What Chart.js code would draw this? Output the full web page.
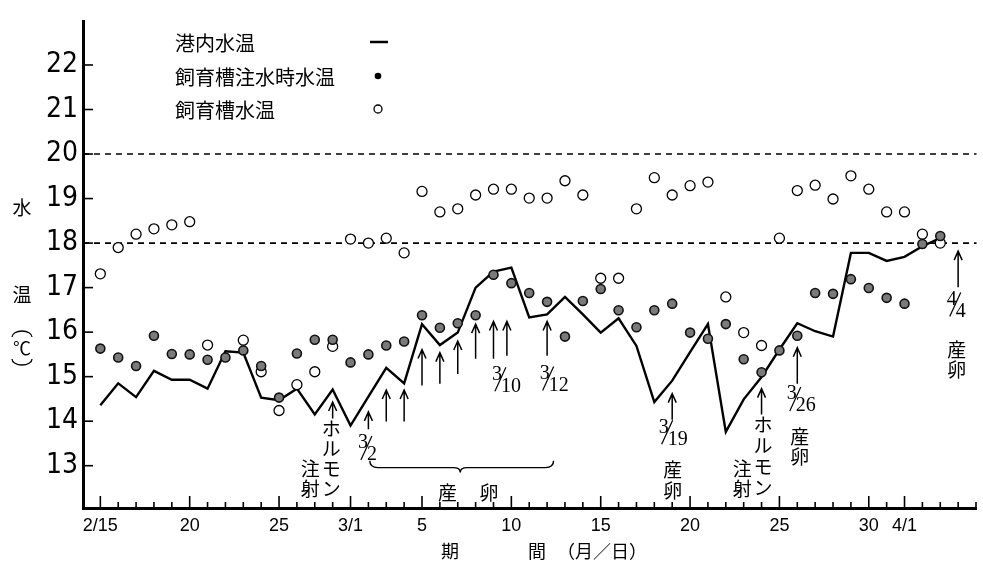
<!DOCTYPE html>
<html>
<head>
<meta charset="utf-8">
<script src="https://cdn.jsdelivr.net/npm/chart.js@4.4.1/dist/chart.umd.min.js"></script>
<style>
body{margin:0;background:#fff;}
#wrap{width:983px;height:569px;}
</style>
</head>
<body>
<div id="wrap"><canvas id="chart" width="983" height="569"></canvas></div>
<script>
// DATA  (day 0 = 2/15, 3/1 = day 14, 4/1 = day 45)
const days = [0,1,2,3,4,5,6,7,8,9,10,11,12,13,14,15,16,17,18,19,20,21,22,23,24,25,26,27,28,29,30,31,32,33,34,35,36,37,38,39,40,41,42,43,44,45,46,47];

// 港内水温
const harbor = [14.36,14.85,14.54,15.13,14.93,14.93,14.73,15.57,15.54,14.53,
14.47,14.73,14.15,14.71,13.90,14.55,15.20,14.85,16.18,15.71,
15.99,17.00,17.36,17.45,16.33,16.40,16.79,16.40,15.99,16.31,
15.69,14.43,14.91,15.55,16.18,13.76,14.49,14.99,15.61,16.20,
16.02,15.90,17.78,17.78,17.60,17.69,17.93,18.11];

// 飼育槽注水時水温
const inflow = [15.63,15.43,15.24,15.92,15.51,15.50,15.38,15.43,15.59,15.24,
14.53,15.52,15.83,15.83,15.32,15.50,15.70,15.79,16.38,16.10,
16.20,16.38,17.29,17.10,16.88,16.68,15.90,16.70,16.97,16.49,
16.11,16.49,16.64,15.99,15.85,16.18,15.39,15.10,15.59,15.92,
16.88,16.86,17.19,16.99,16.77,16.64,17.98,18.16];

// 飼育槽水温
const tank = [17.31,17.90,18.20,18.32,18.41,18.48,15.71,null,15.82,15.11,
14.24,14.82,15.11,15.68,18.09,18.00,18.11,17.78,19.16,18.70,
18.77,19.08,19.21,19.21,19.01,19.01,19.40,19.08,17.21,17.21,
18.77,19.47,19.08,19.29,19.37,16.79,15.99,15.70,18.11,19.18,
19.30,18.99,19.51,19.21,18.70,18.70,18.20,18.00];

const xLabelDays = [0,5,10,14,18,23,28,33,38,43,45];
const xLabels = ['2/15','20','25','3/1','5','10','15','20','25','30','4/1'];
const yTicks = [13,14,15,16,17,18,19,20,21,22];
const refLines = [20,18];

// ANNOTATIONS  [day, head temp, tail temp]
const arrows = [[13,14.43,14.06],[15,14.21,13.82],[16,14.70,13.99],[17,14.70,13.99],
[18,15.61,14.80],[19,15.54,14.84],[20,15.80,15.06],[21,16.18,15.40],[22,16.24,15.40],
[22.75,16.24,15.47],[25,16.24,15.47],[32,14.62,14.03],[37,14.73,14.15],[39,15.65,14.84],
[48,17.82,17.01]];
// [day, temp, numerator, denominator]
const fracs = [[14.86,13.40,'3','2'],[22.36,14.94,'3','10'],[25.03,14.96,'3','12'],
[31.69,13.75,'3','19'],[38.86,14.50,'3','26'],[47.81,16.62,'4','4']];
// [day, temp, text, step px down]
const vtexts = [[12.92,13.82,'ホルモン',20],[11.75,12.93,'注射',20],
[37.08,13.93,'ホルモン',21],[35.92,12.93,'注射',20],
[32.03,12.91,'産卵',21],[39.14,13.66,'産卵',20],[47.92,15.60,'産卵',20],
[19.42,12.40,'産',0],[21.75,12.40,'卵',0]];
// brace under 3/2..3/12 : [left day, right day, centre day, line temp, tip temp, cusp temp]
const brace = [15.08,25.36,20.14,12.956,13.11,12.85];

const CJK = '"Noto Sans CJK JP","Noto Sans CJK SC",sans-serif';

function frac(ctx,px,py,num,den){
ctx.font = '20px "Liberation Serif","DejaVu Serif",serif';
ctx.textBaseline = 'middle';
ctx.textAlign = 'right';
ctx.fillText(num,px+2,py-5);
ctx.textAlign = 'left';
ctx.fillText(den,px+1,py+7);
ctx.lineWidth = 1.2;
ctx.beginPath();
ctx.moveTo(px+6,py-12);
ctx.lineTo(px-5,py+12);
ctx.stroke();
}

const decor = {
id:'decor',
beforeDatasetsDraw(c){
const {ctx, chartArea:a, scales:{x,y}} = c;
ctx.save();
ctx.strokeStyle = '#000';
ctx.lineWidth = 1.6;
ctx.setLineDash([6,5]);
refLines.forEach(v=>{
const py = y.getPixelForValue(v);
ctx.beginPath(); ctx.moveTo(a.left,py); ctx.lineTo(a.right,py); ctx.stroke();
});
ctx.setLineDash([]);
// inside ticks
ctx.lineWidth = 1.6;
yTicks.forEach(v=>{
const py = y.getPixelForValue(v);
ctx.beginPath(); ctx.moveTo(a.left,py); ctx.lineTo(a.left+10,py); ctx.stroke();
});
for(let d=0; d<=49; d++){
const px = x.getPixelForValue(d);
const len = xLabelDays.includes(d) ? 12 : 6;
ctx.beginPath(); ctx.moveTo(px,a.bottom); ctx.lineTo(px,a.bottom-len); ctx.stroke();
}
ctx.restore();
},
afterDraw(c){
const {ctx, scales:{x,y}} = c;
ctx.save();
ctx.fillStyle = '#000';
ctx.strokeStyle = '#000';

// arrows
ctx.lineWidth = 1.5;
arrows.forEach(([d,t0,t1])=>{
const px = x.getPixelForValue(d), hy = y.getPixelForValue(t0), ty = y.getPixelForValue(t1);
ctx.beginPath();
ctx.moveTo(px,ty); ctx.lineTo(px,hy);
ctx.moveTo(px-4,hy+9); ctx.lineTo(px,hy); ctx.lineTo(px+4,hy+9);
ctx.stroke();
});

// fractions
fracs.forEach(([d,t,n,m])=>frac(ctx,x.getPixelForValue(d),y.getPixelForValue(t),n,m));

// vertical texts
ctx.font = '19px '+CJK;
ctx.textAlign = 'center';
ctx.textBaseline = 'middle';
vtexts.forEach(([d,t,s,step])=>{
const px = x.getPixelForValue(d), py = y.getPixelForValue(t);
[...s].forEach((ch,i)=>ctx.fillText(ch,px,py+i*step));
});

// brace
const [bl,br,bc,tl,tt,tc] = brace;
const x0 = x.getPixelForValue(bl), x1 = x.getPixelForValue(br), xc = x.getPixelForValue(bc);
const yl = y.getPixelForValue(tl), yt = y.getPixelForValue(tt), yc = y.getPixelForValue(tc);
ctx.lineWidth = 1.4;
ctx.beginPath();
ctx.moveTo(x0,yt);
ctx.quadraticCurveTo(x0,yl,x0+8,yl);
ctx.lineTo(xc-7,yl);
ctx.quadraticCurveTo(xc,yl,xc,yc);
ctx.quadraticCurveTo(xc,yl,xc+7,yl);
ctx.lineTo(x1-8,yl);
ctx.quadraticCurveTo(x1,yl,x1,yt);
ctx.stroke();

// legend
ctx.textAlign = 'left';
ctx.font = '20px '+CJK;
ctx.fillText('港内水温',175,43);
ctx.fillText('飼育槽注水時水温',175,77);
ctx.fillText('飼育槽水温',175,110);
ctx.lineWidth = 2.5;
ctx.beginPath(); ctx.moveTo(370,42); ctx.lineTo(388,42); ctx.stroke();
ctx.beginPath(); ctx.arc(378,76,3.3,0,Math.PI*2); ctx.fill();
ctx.lineWidth = 1.3;
ctx.beginPath(); ctx.arc(378,109,4,0,Math.PI*2); ctx.fillStyle='#fff'; ctx.fill(); ctx.stroke();
ctx.fillStyle = '#000';

// axis titles
ctx.textAlign = 'center';
ctx.font = '19px '+CJK;
ctx.fillText('水',22,208);
ctx.fillText('温',22,295);
ctx.font = '18px '+CJK;
ctx.fillText('℃',22,348);
ctx.lineWidth = 1.3;
ctx.beginPath(); ctx.ellipse(22,337,10,6,0,Math.PI,Math.PI*2); ctx.stroke();
ctx.beginPath(); ctx.ellipse(22,359,10,6,0,0,Math.PI); ctx.stroke();

ctx.font = '18px '+CJK;
ctx.fillText('期',450,551);
ctx.fillText('間',537,551);
ctx.textAlign = 'left';
ctx.fillText('（月／日）',557,551);
ctx.restore();
}
};

const ctx = document.getElementById('chart').getContext('2d');
const chart = new Chart(ctx,{
type:'line',
data:{
datasets:[
{label:'港内水温', data:days.map((d,i)=>({x:d,y:harbor[i]})), borderColor:'#000', borderWidth:2.4,
pointRadius:0, tension:0, order:3},
{label:'飼育槽水温', data:days.map((d,i)=>({x:d,y:tank[i]})).filter(p=>p.y!==null), showLine:false,
pointRadius:5, pointBackgroundColor:'#fff', pointBorderColor:'#000', pointBorderWidth:1.3, order:2},
{label:'飼育槽注水時水温', data:days.map((d,i)=>({x:d,y:inflow[i]})), showLine:false,
pointRadius:4.5, pointBackgroundColor:'#7a7a7a', pointBorderColor:'#111', pointBorderWidth:1.6, order:1}
]
},
options:{
responsive:false,
devicePixelRatio:1,
animation:false,
layout:{padding:{top:13,right:0,left:0,bottom:0}},
plugins:{legend:{display:false}, tooltip:{enabled:false}},
scales:{
x:{
type:'linear', min:-0.97, max:49.03,
grid:{display:false, drawTicks:false},
border:{display:true,color:'#000',width:3},
afterBuildTicks:s=>{ s.ticks = Array.from({length:50},(_,i)=>({value:i})); },
afterFit:s=>{ s.height = 61; },
ticks:{autoSkip:false, maxRotation:0, padding:7, color:'#000',
font:{family:'"Liberation Sans","DejaVu Sans",sans-serif', size:18},
callback:v=>{ const k = xLabelDays.indexOf(v); return k<0 ? '' : xLabels[k]; }}
},
y:{
type:'linear', min:12.05, max:22.97,
grid:{display:false, drawTicks:false},
border:{display:true,color:'#000',width:3},
afterBuildTicks:s=>{ s.ticks = yTicks.map(v=>({value:v})); },
afterFit:s=>{ s.width = 83; },
ticks:{padding:5, color:'#000',
font:{family:'"Liberation Sans Narrow","DejaVu Sans Condensed",sans-serif', size:28}}
}
}
},
plugins:[decor]
});
</script>
</body>
</html>
